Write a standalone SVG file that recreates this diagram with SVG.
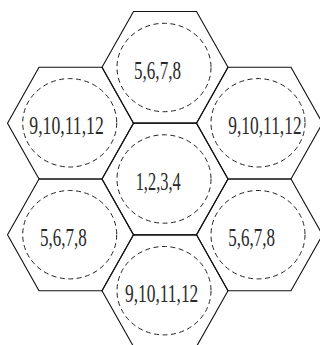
<svg xmlns="http://www.w3.org/2000/svg" width="320" height="345" viewBox="0 0 320 345">
<style>
.hex{fill:none;stroke:#111;stroke-width:1.1}
.c{fill:none;stroke:#222;stroke-width:1;stroke-dasharray:5 3.5}
.t{font-family:"Liberation Serif","Times New Roman",serif;font-size:24.5px;fill:#2a2a2a}
</style>
<defs>
<polygon id="h" points="-63,0 -31.5,-55.85 31.5,-55.85 63,0 31.5,55.85 -31.5,55.85"/>
</defs>
<rect width="320" height="345" fill="#fff"/>
<g id="top"><use href="#h" class="hex" x="165" y="67.3"/><ellipse class="c" cx="164" cy="67.5" rx="47" ry="44.2"/><text class="t" x="134" y="79.3" textLength="47" lengthAdjust="spacingAndGlyphs">5,6,7,8</text></g>
<g id="upper-left"><use href="#h" class="hex" x="70.5" y="123.15"/><ellipse class="c" cx="69.7" cy="122.8" rx="47" ry="44.2"/><text class="t" x="29.3" y="134" textLength="74.5" lengthAdjust="spacingAndGlyphs">9,10,11,12</text></g>
<g id="upper-right"><use href="#h" class="hex" x="259.5" y="123.15"/><ellipse class="c" cx="258" cy="122.8" rx="47" ry="44.2"/><text class="t" x="228.3" y="134.3" textLength="73.3" lengthAdjust="spacingAndGlyphs">9,10,11,12</text></g>
<g id="center"><use href="#h" class="hex" x="165" y="179"/><ellipse class="c" cx="164" cy="179" rx="47" ry="44.2"/><text class="t" x="135.7" y="190" textLength="45" lengthAdjust="spacingAndGlyphs">1,2,3,4</text></g>
<g id="lower-left"><use href="#h" class="hex" x="70.5" y="234.85"/><ellipse class="c" cx="69.7" cy="234.7" rx="47" ry="44.2"/><text class="t" x="40" y="245.7" textLength="46.7" lengthAdjust="spacingAndGlyphs">5,6,7,8</text></g>
<g id="lower-right"><use href="#h" class="hex" x="259.5" y="234.85"/><ellipse class="c" cx="258" cy="234.7" rx="47" ry="44.2"/><text class="t" x="228.3" y="245.7" textLength="46.7" lengthAdjust="spacingAndGlyphs">5,6,7,8</text></g>
<g id="bottom"><use href="#h" class="hex" x="165" y="290.7"/><ellipse class="c" cx="164" cy="290.7" rx="47" ry="44.2"/><text class="t" x="125" y="301.7" textLength="73.3" lengthAdjust="spacingAndGlyphs">9,10,11,12</text></g>
<g id="connectors"></g>
</svg>
